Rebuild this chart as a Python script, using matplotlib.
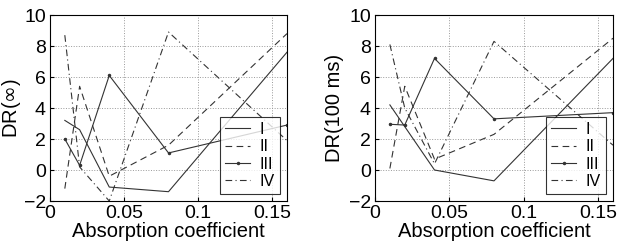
import matplotlib
matplotlib.use('Agg')
import matplotlib.pyplot as plt

plt.rcParams['font.family'] = ['Liberation Sans', 'DejaVu Sans']

absorption = [0.01, 0.02, 0.04, 0.08, 0.16]
labels = ['I', 'II', 'III', 'IV']

# DR(inf)
dr_inf = {
    'I':   [3.2, 2.6, -1.1, -1.4, 7.6],
    'II':  [-1.2, 5.4, -0.4, 1.6, 8.8],
    'III': [2.0, 0.3, 6.1, 1.1, 2.9],
    'IV':  [8.7, 0.2, -2.0, 8.9, 1.9],
}
# DR(100 ms)
dr_100 = {
    'I':   [4.2, 2.8, 0.0, -0.7, 7.2],
    'II':  [0.1, 5.4, 0.7, 2.3, 8.5],
    'III': [2.95, 2.9, 7.2, 3.3, 3.7],
    'IV':  [8.1, 4.0, 0.4, 8.3, 1.6],
}

styles = {
    'I':   dict(ls='-', marker=None),
    'II':  dict(ls=(0, (6, 4)), marker=None),
    'III': dict(ls='-', marker='.', ms=3),
    'IV':  dict(ls=(0, (6, 3, 1, 3)), marker=None),
}

fig = plt.figure(figsize=(6.23, 2.47), dpi=100)
ax1 = fig.add_axes([50/623, 1-201/247, 237/623, 186/247])
ax2 = fig.add_axes([375/623, 1-201/247, 238/623, 186/247])

panels = [(ax1, dr_inf, r'DR($\infty$)', -0.115),
          (ax2, dr_100, 'DR(100 ms)', -0.13)]
for ax, data, ylab, lx in panels:
    for lab in labels:
        ax.plot(absorption, data[lab], color='#333333', lw=0.8, label=lab, **styles[lab])
    ax.set_xlim(0, 0.16)
    ax.set_ylim(-2, 10)
    ax.set_xticks([0, 0.05, 0.1, 0.15])
    ax.set_xticklabels(['0', '0.05', '0.1', '0.15'])
    ax.set_yticks([-2, 0, 2, 4, 6, 8, 10])
    ax.set_yticklabels(['\u22122', '0', '2', '4', '6', '8', '10'])
    ax.grid(True, ls=':', color='#999999', lw=0.7)
    ax.tick_params(direction='in', labelsize=14, length=3, pad=3)
    ax.set_xlabel('Absorption coefficient', fontsize=14.5, labelpad=0)
    ax.set_ylabel(ylab, fontsize=14.5)
    ax.yaxis.set_label_coords(lx, 0.5)
    leg = ax.legend(loc='lower right', fontsize=11.5, frameon=True, fancybox=False,
                    edgecolor='black', handlelength=1.6, handletextpad=0.6,
                    borderpad=0.3, borderaxespad=0.45, labelspacing=0.15)
    leg.get_frame().set_linewidth(0.8)

fig.savefig('out.png', dpi=100)
